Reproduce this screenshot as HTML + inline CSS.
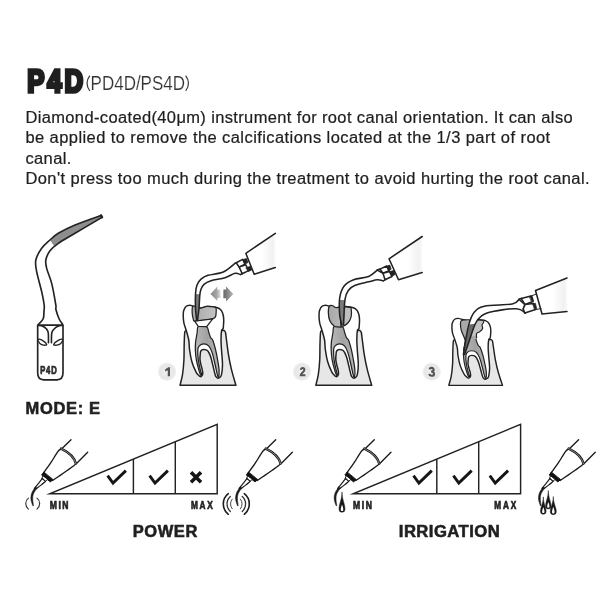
<!DOCTYPE html>
<html><head><meta charset="utf-8"><title>P4D</title>
<style>html,body{margin:0;padding:0;background:#fff}body{width:606px;height:600px;overflow:hidden;font-family:"Liberation Sans",sans-serif}svg{display:block}</style>
</head><body>
<svg width="606" height="600" viewBox="0 0 606 600" style="will-change:transform;filter:blur(0.35px)">
<rect width="606" height="600" fill="#fff"/>
<defs>
<radialGradient id="bg" cx="50%" cy="50%" r="50%"><stop offset="0" stop-color="#f2f2f2"/><stop offset="0.75" stop-color="#e6e6e6"/><stop offset="1" stop-color="#f4f4f4"/></radialGradient>
<linearGradient id="arL" x1="0" x2="1"><stop offset="0" stop-color="#858585"/><stop offset="0.65" stop-color="#a8a8a8"/><stop offset="1" stop-color="#e4e4e4"/></linearGradient>
<linearGradient id="arR" x1="0" x2="1"><stop offset="0" stop-color="#666"/><stop offset="0.5" stop-color="#8c8c8c"/><stop offset="1" stop-color="#b8b8b8"/></linearGradient>
<linearGradient id="pulp" x1="0" x2="1"><stop offset="0" stop-color="#b9b9b9"/><stop offset="0.5" stop-color="#a2a2a2"/><stop offset="1" stop-color="#b4b4b4"/></linearGradient>
<linearGradient id="cav" x1="0" x2="1"><stop offset="0" stop-color="#a8a8a8"/><stop offset="1" stop-color="#c4c4c4"/></linearGradient>
<linearGradient id="body" x1="0" x2="1"><stop offset="0" stop-color="#fff"/><stop offset="0.55" stop-color="#fff"/><stop offset="0.9" stop-color="#f1f1f1"/><stop offset="1" stop-color="#fafafa"/></linearGradient>
</defs>
<g font-family="Liberation Sans, sans-serif" fill="#1f1f1f">
<text transform="translate(27.2 92.3) scale(0.82 1)" font-size="31.5" font-weight="bold" letter-spacing="3.5" stroke="#1f1f1f" stroke-width="3.4" stroke-linejoin="miter">P4D</text>
<text transform="translate(90.6 90) scale(0.858 1)" font-size="19.8" fill="#333" stroke="#fff" stroke-width="0.15">PD4D/PS4D</text>
<path d="M89.8 75.6 Q84.2 83.3 89.8 91 M185.7 75.6 Q191.3 83.3 185.7 91" fill="none" stroke="#3a3a3a" stroke-width="1.2"/>
<text transform="translate(25.4 122.9) scale(1.03 1)" font-size="16" stroke="#1f1f1f" stroke-width="0.22" letter-spacing="0.36">Diamond-coated(40μm) instrument for root canal orientation. It can also</text>
<text transform="translate(25.4 143.4) scale(1.03 1)" font-size="16" stroke="#1f1f1f" stroke-width="0.22" letter-spacing="0.42">be applied to remove the calcifications located at the 1/3 part of root</text>
<text transform="translate(25.4 163.9) scale(1.03 1)" font-size="16" stroke="#1f1f1f" stroke-width="0.22" letter-spacing="0.39">canal.</text>
<text transform="translate(25.4 184.4) scale(1.03 1)" font-size="16" stroke="#1f1f1f" stroke-width="0.22" letter-spacing="0.41">Don&#39;t press too much during the treatment to avoid hurting the root canal.</text>
<text transform="translate(25.6 414.3) scale(1.03 1)" font-size="16" font-weight="bold" stroke="#1f1f1f" stroke-width="0.55" letter-spacing="0.65">MODE: E</text>
<text transform="translate(132.8 536.5) scale(1.03 1)" font-size="16" font-weight="bold" stroke="#1f1f1f" stroke-width="0.55" letter-spacing="0.55">POWER</text>
<text transform="translate(398.8 536.5) scale(1.04 1)" font-size="16" font-weight="bold" stroke="#1f1f1f" stroke-width="0.55" letter-spacing="0.45">IRRIGATION</text>
</g>
<g fill="none" stroke="#222" stroke-width="1.65" stroke-linecap="round" stroke-linejoin="round">
<path d="M101.33 215.33 C96.94 216.94 82.17 222.00 75.00 225.00 C67.83 228.00 62.50 230.83 58.33 233.33 C54.17 235.83 52.78 237.50 50.00 240.00 C47.22 242.50 44.03 245.00 41.67 248.33 C39.31 251.67 36.67 256.11 35.83 260.00 C35.00 263.89 35.69 266.39 36.67 271.67 C37.64 276.94 40.42 286.11 41.67 291.67 C42.92 297.22 43.78 301.81 44.17 305.00 C44.56 308.19 44.16 308.54 44.00 310.83 C43.84 313.12 44.13 316.51 43.21 318.75 C42.28 320.99 39.25 323.37 38.46 324.29 L62.52 324.29 C61.94 323.37 60.15 321.26 59.04 318.75 C57.93 316.24 56.41 311.54 55.87 309.25 C55.34 306.96 56.53 309.32 55.83 305.00 C55.13 300.68 53.19 289.44 51.67 283.33 C50.14 277.22 47.64 272.22 46.67 268.33 C45.69 264.44 45.28 262.92 45.83 260.00 C46.39 257.08 47.92 253.61 50.00 250.83 C52.08 248.06 54.17 246.25 58.33 243.33 C62.50 240.42 67.72 237.67 75.00 233.33 C82.28 229.00 97.50 220.00 102.00 217.33 Z" fill="#fff" stroke="none"/>
<path d="M101.33 215.33 C96.94 216.94 82.17 222.00 75.00 225.00 C67.83 228.00 62.50 230.83 58.33 233.33 C54.17 235.83 51.39 238.89 50.00 240.00 L54.17 246.17 L54.17 246.17 C54.86 245.69 54.86 245.47 58.33 243.33 C61.81 241.19 67.72 237.67 75.00 233.33 C82.28 229.00 97.50 220.00 102.00 217.33Z" fill="#8e8e8e" stroke="none"/>
<path d="M101.33 215.33 C96.94 216.94 82.17 222.00 75.00 225.00 C67.83 228.00 62.50 230.83 58.33 233.33 C54.17 235.83 52.78 237.50 50.00 240.00 C47.22 242.50 44.03 245.00 41.67 248.33 C39.31 251.67 36.67 256.11 35.83 260.00 C35.00 263.89 35.69 266.39 36.67 271.67 C37.64 276.94 40.42 286.11 41.67 291.67 C42.92 297.22 43.78 301.81 44.17 305.00 C44.56 308.19 44.16 308.54 44.00 310.83 C43.84 313.12 44.13 316.51 43.21 318.75 C42.28 320.99 39.25 323.37 38.46 324.29"/>
<path d="M102.00 217.33 C97.50 220.00 82.28 229.00 75.00 233.33 C67.72 237.67 62.50 240.42 58.33 243.33 C54.17 246.25 52.08 248.06 50.00 250.83 C47.92 253.61 46.39 257.08 45.83 260.00 C45.28 262.92 45.69 264.44 46.67 268.33 C47.64 272.22 50.14 277.22 51.67 283.33 C53.19 289.44 55.13 300.68 55.83 305.00 C56.53 309.32 55.34 306.96 55.87 309.25 C56.41 311.54 57.93 316.24 59.04 318.75 C60.15 321.26 61.94 323.37 62.52 324.29"/>
<path d="M101.00 215.33 L102.17 217.33" stroke-width="2.2"/>
<path d="M37.67 325.08 L37.67 372.86 C37.67 377.86 39.67 379.86 43.67 379.86 L57.00 379.86 C61.00 379.86 63.00 377.86 63.00 372.86 L63.00 325.08 Z" fill="#fff"/>
<path d="M38.30 325.40 C39.04 325.56 41.36 325.74 42.73 326.35 C44.10 326.96 45.61 327.93 46.53 329.04 C47.46 330.15 47.96 330.70 48.27 333.00 C48.59 335.29 48.41 341.18 48.43 342.82" stroke-width="1.6"/>
<path d="M62.37 325.40 C61.63 325.56 59.30 325.74 57.93 326.35 C56.56 326.96 55.16 327.93 54.13 329.04 C53.10 330.15 52.21 330.70 51.76 333.00 C51.31 335.29 51.49 341.18 51.44 342.82" stroke-width="1.6"/>
<path d="M37.98 339.49 C38.41 338.99 40.96 339.62 42.42 340.44 C43.87 341.26 46.48 343.61 46.69 344.40 C46.90 345.19 44.82 345.35 43.68 345.19 C42.55 345.03 40.83 344.40 39.88 343.45 C38.93 342.50 37.56 339.99 37.98 339.49Z" fill="#fff" stroke-width="1.3"/>
<path d="M62.68 339.49 C62.26 338.99 59.75 339.62 58.25 340.44 C56.74 341.26 53.92 343.61 53.66 344.40 C53.39 345.19 55.48 345.35 56.67 345.19 C57.85 345.03 59.78 344.40 60.78 343.45 C61.78 342.50 63.10 339.99 62.68 339.49Z" fill="#fff" stroke-width="1.3"/>
</g>
<text transform="translate(40.2 374.1) scale(0.74 1)" font-family="Liberation Sans, sans-serif" font-weight="bold" font-size="10.3" fill="#2a2a2a" stroke="#2a2a2a" stroke-width="0.75" letter-spacing="1.1">P4D</text>
<g transform="translate(207.80 385.40) scale(1.0000 1.0000) translate(-207.8 -385.40)" fill="none" stroke="#222" stroke-width="1.5" stroke-linejoin="round" stroke-linecap="round">
<path d="M180.00 385.33 C180.42 383.56 181.84 378.92 182.50 374.67 C183.16 370.42 183.66 364.78 183.93 359.83 C184.21 354.89 184.04 349.47 184.17 345.00 C184.29 340.53 184.47 335.33 184.67 333.00 C184.86 330.67 185.22 331.33 185.33 331.00 L186.67 330.67 L205.83 338.33 L222.67 330.33 L224.17 330.50 C224.39 330.83 225.11 330.92 225.50 332.50 C225.89 334.08 226.00 336.28 226.50 340.00 C227.00 343.72 227.67 349.89 228.50 354.83 C229.33 359.78 230.26 364.58 231.50 369.67 C232.74 374.75 235.18 382.72 235.92 385.33 Z" fill="#e7e7e7"/>
<path d="M186.00 329.67 C185.24 327.03 184.59 325.81 184.17 324.17 C183.74 322.52 183.60 321.33 183.45 319.80 C183.30 318.27 183.21 316.49 183.25 315.00 C183.29 313.51 183.22 312.26 183.67 310.83 C184.11 309.41 184.88 307.38 185.92 306.43 C186.95 305.49 188.73 305.20 189.88 305.15 C191.04 305.10 191.56 305.77 192.83 306.13 C194.10 306.50 196.09 307.02 197.50 307.33 C198.91 307.64 199.74 308.15 201.27 308.00 C202.79 307.85 204.93 306.64 206.67 306.43 C208.40 306.22 210.01 306.57 211.67 306.73 C213.32 306.90 215.34 307.11 216.62 307.43 C217.89 307.76 218.51 308.09 219.33 308.67 C220.16 309.24 220.93 309.83 221.57 310.88 C222.21 311.94 222.81 313.51 223.17 315.00 C223.53 316.49 223.68 318.13 223.73 319.80 C223.79 321.47 223.61 323.51 223.50 325.00 C223.39 326.49 223.37 327.77 223.05 328.72 C222.73 329.66 221.91 328.79 221.57 330.67 C221.22 332.55 221.01 336.81 221.00 340.00 C220.99 343.19 221.25 345.72 221.50 349.83 C221.75 353.94 222.50 360.53 222.50 364.67 C222.50 368.81 221.97 372.56 221.50 374.67 C221.03 376.78 220.32 376.76 219.67 377.33 C219.02 377.91 218.21 378.23 217.60 378.12 C216.99 378.01 216.41 377.24 216.00 376.67 C215.59 376.09 215.61 376.33 215.13 374.67 C214.66 373.00 213.91 369.64 213.17 366.67 C212.42 363.69 211.58 359.47 210.67 356.83 C209.75 354.19 208.82 352.07 207.67 350.83 C206.51 349.59 204.87 349.37 203.73 349.40 C202.59 349.43 201.43 350.07 200.83 351.00 C200.24 351.93 200.31 353.53 200.17 355.00 C200.03 356.47 199.86 358.17 200.00 359.83 C200.14 361.50 200.62 363.36 201.00 365.00 C201.38 366.64 201.96 368.22 202.25 369.67 C202.54 371.11 202.85 372.61 202.75 373.67 C202.65 374.72 202.08 375.51 201.67 376.00 C201.26 376.49 200.84 376.80 200.28 376.63 C199.73 376.47 199.08 375.83 198.33 375.00 C197.59 374.17 196.91 373.87 195.83 371.67 C194.76 369.46 192.91 365.41 191.87 361.78 C190.83 358.16 190.10 353.53 189.58 349.90 C189.06 346.27 189.35 343.37 188.75 340.00 C188.15 336.63 186.76 332.31 186.00 329.67Z" fill="#fff"/>
<path d="M198.33 326.50 C196.75 327.47 197.50 330.64 197.17 332.50 C196.83 334.36 196.59 336.14 196.33 337.67 C196.08 339.19 195.78 339.64 195.62 341.67 C195.45 343.69 195.21 346.81 195.33 349.83 C195.45 352.86 195.68 356.19 196.33 359.83 C196.99 363.47 198.51 369.06 199.28 371.67 C200.06 374.28 200.63 375.11 201.00 375.50 C201.37 375.89 201.62 374.97 201.50 374.00 C201.38 373.03 200.82 372.03 200.28 369.67 C199.75 367.31 198.71 363.14 198.30 359.83 C197.89 356.53 197.64 352.15 197.80 349.83 C197.96 347.52 198.29 346.91 199.28 345.93 C200.27 344.96 202.17 343.97 203.73 343.97 C205.30 343.97 207.26 344.46 208.67 345.93 C210.07 347.41 211.09 349.70 212.17 352.83 C213.24 355.97 214.27 361.11 215.13 364.75 C215.99 368.39 216.74 372.62 217.33 374.67 C217.92 376.71 218.38 377.83 218.67 377.00 C218.96 376.17 219.26 372.53 219.08 369.67 C218.91 366.81 218.18 363.14 217.60 359.83 C217.02 356.53 216.44 353.14 215.62 349.83 C214.79 346.53 213.49 342.03 212.67 340.00 C211.84 337.97 211.31 338.92 210.67 337.67 C210.03 336.42 209.50 334.33 208.83 332.50 C208.17 330.67 208.42 327.67 206.67 326.67 C204.92 325.67 199.92 325.53 198.33 326.50Z" fill="url(#pulp)" stroke-width="1.25"/>
<path d="M192.83 306.13 C192.08 307.05 192.08 310.63 192.17 312.83 C192.25 315.03 192.92 317.96 193.33 319.33 C193.74 320.71 192.90 320.92 194.63 321.08 C196.37 321.24 200.73 320.68 203.73 320.30 C206.74 319.93 210.72 319.41 212.67 318.83 C214.61 318.26 214.84 317.83 215.42 316.83 C215.99 315.83 216.05 314.36 216.12 312.83 C216.19 311.31 216.58 308.68 215.83 307.67 C215.09 306.65 213.19 306.94 211.67 306.73 C210.14 306.53 208.40 306.20 206.67 306.43 C204.93 306.66 202.93 307.97 201.27 308.12 C199.60 308.27 198.07 307.66 196.67 307.33 C195.26 307.00 193.58 305.22 192.83 306.13Z" fill="url(#cav)" stroke-width="1.25"/>
<path d="M194.63 321.17 L212.67 318.92 L206.72 326.73 L198.30 326.42Z" fill="#fff" stroke-width="1.25"/>
</g>
<g transform="translate(343.60 385.40) scale(1.0000 1.0000) translate(-207.8 -385.40)" fill="none" stroke="#222" stroke-width="1.5" stroke-linejoin="round" stroke-linecap="round">
<path d="M180.00 385.33 C180.42 383.56 181.84 378.92 182.50 374.67 C183.16 370.42 183.66 364.78 183.93 359.83 C184.21 354.89 184.04 349.47 184.17 345.00 C184.29 340.53 184.47 335.33 184.67 333.00 C184.86 330.67 185.22 331.33 185.33 331.00 L186.67 330.67 L205.83 338.33 L222.67 330.33 L224.17 330.50 C224.39 330.83 225.11 330.92 225.50 332.50 C225.89 334.08 226.00 336.28 226.50 340.00 C227.00 343.72 227.67 349.89 228.50 354.83 C229.33 359.78 230.26 364.58 231.50 369.67 C232.74 374.75 235.18 382.72 235.92 385.33 Z" fill="#e7e7e7"/>
<path d="M186.00 329.67 C185.24 327.03 184.59 325.81 184.17 324.17 C183.74 322.52 183.60 321.33 183.45 319.80 C183.30 318.27 183.21 316.49 183.25 315.00 C183.29 313.51 183.22 312.26 183.67 310.83 C184.11 309.41 184.88 307.38 185.92 306.43 C186.95 305.49 188.73 305.20 189.88 305.15 C191.04 305.10 191.56 305.77 192.83 306.13 C194.10 306.50 196.09 307.02 197.50 307.33 C198.91 307.64 199.74 308.15 201.27 308.00 C202.79 307.85 204.93 306.64 206.67 306.43 C208.40 306.22 210.01 306.57 211.67 306.73 C213.32 306.90 215.34 307.11 216.62 307.43 C217.89 307.76 218.51 308.09 219.33 308.67 C220.16 309.24 220.93 309.83 221.57 310.88 C222.21 311.94 222.81 313.51 223.17 315.00 C223.53 316.49 223.68 318.13 223.73 319.80 C223.79 321.47 223.61 323.51 223.50 325.00 C223.39 326.49 223.37 327.77 223.05 328.72 C222.73 329.66 221.91 328.79 221.57 330.67 C221.22 332.55 221.01 336.81 221.00 340.00 C220.99 343.19 221.25 345.72 221.50 349.83 C221.75 353.94 222.50 360.53 222.50 364.67 C222.50 368.81 221.97 372.56 221.50 374.67 C221.03 376.78 220.32 376.76 219.67 377.33 C219.02 377.91 218.21 378.23 217.60 378.12 C216.99 378.01 216.41 377.24 216.00 376.67 C215.59 376.09 215.61 376.33 215.13 374.67 C214.66 373.00 213.91 369.64 213.17 366.67 C212.42 363.69 211.58 359.47 210.67 356.83 C209.75 354.19 208.82 352.07 207.67 350.83 C206.51 349.59 204.87 349.37 203.73 349.40 C202.59 349.43 201.43 350.07 200.83 351.00 C200.24 351.93 200.31 353.53 200.17 355.00 C200.03 356.47 199.86 358.17 200.00 359.83 C200.14 361.50 200.62 363.36 201.00 365.00 C201.38 366.64 201.96 368.22 202.25 369.67 C202.54 371.11 202.85 372.61 202.75 373.67 C202.65 374.72 202.08 375.51 201.67 376.00 C201.26 376.49 200.84 376.80 200.28 376.63 C199.73 376.47 199.08 375.83 198.33 375.00 C197.59 374.17 196.91 373.87 195.83 371.67 C194.76 369.46 192.91 365.41 191.87 361.78 C190.83 358.16 190.10 353.53 189.58 349.90 C189.06 346.27 189.35 343.37 188.75 340.00 C188.15 336.63 186.76 332.31 186.00 329.67Z" fill="#fff"/>
<path d="M198.33 326.50 C196.75 327.47 197.50 330.64 197.17 332.50 C196.83 334.36 196.59 336.14 196.33 337.67 C196.08 339.19 195.78 339.64 195.62 341.67 C195.45 343.69 195.21 346.81 195.33 349.83 C195.45 352.86 195.68 356.19 196.33 359.83 C196.99 363.47 198.51 369.06 199.28 371.67 C200.06 374.28 200.63 375.11 201.00 375.50 C201.37 375.89 201.62 374.97 201.50 374.00 C201.38 373.03 200.82 372.03 200.28 369.67 C199.75 367.31 198.71 363.14 198.30 359.83 C197.89 356.53 197.64 352.15 197.80 349.83 C197.96 347.52 198.29 346.91 199.28 345.93 C200.27 344.96 202.17 343.97 203.73 343.97 C205.30 343.97 207.26 344.46 208.67 345.93 C210.07 347.41 211.09 349.70 212.17 352.83 C213.24 355.97 214.27 361.11 215.13 364.75 C215.99 368.39 216.74 372.62 217.33 374.67 C217.92 376.71 218.38 377.83 218.67 377.00 C218.96 376.17 219.26 372.53 219.08 369.67 C218.91 366.81 218.18 363.14 217.60 359.83 C217.02 356.53 216.44 353.14 215.62 349.83 C214.79 346.53 213.49 342.03 212.67 340.00 C211.84 337.97 211.31 338.92 210.67 337.67 C210.03 336.42 209.50 334.33 208.83 332.50 C208.17 330.67 208.42 327.67 206.67 326.67 C204.92 325.67 199.92 325.53 198.33 326.50Z" fill="url(#pulp)" stroke-width="1.25"/>
<path d="M193.54 306.14 C192.79 307.33 192.46 310.43 192.55 312.87 C192.63 315.31 193.04 318.56 194.03 320.79 C195.02 323.02 197.08 325.21 198.49 326.24 C199.89 327.26 201.18 326.85 202.45 326.93 C203.72 327.01 204.54 327.34 206.11 326.73 C207.68 326.12 210.32 324.92 211.85 323.27 C213.39 321.62 214.72 319.22 215.32 316.83 C215.91 314.44 215.63 310.50 215.42 308.91 C215.20 307.33 214.96 307.66 214.03 307.33 C213.11 307.00 211.06 306.93 209.87 306.93 C208.69 306.93 208.06 307.24 206.90 307.33 C205.75 307.41 204.18 307.41 202.94 307.43 C201.70 307.44 200.47 307.71 199.48 307.43 C198.49 307.15 197.99 305.96 197.00 305.74 C196.01 305.53 194.28 304.95 193.54 306.14Z" fill="url(#cav)" stroke-width="1.25"/>
</g>
<g transform="translate(475.50 385.40) scale(0.9600 0.8360) translate(-207.8 -385.40)" fill="none" stroke="#222" stroke-width="1.5" stroke-linejoin="round" stroke-linecap="round">
<path d="M180.00 385.33 C180.42 383.56 181.84 378.92 182.50 374.67 C183.16 370.42 183.66 364.78 183.93 359.83 C184.21 354.89 184.04 349.47 184.17 345.00 C184.29 340.53 184.47 335.33 184.67 333.00 C184.86 330.67 185.22 331.33 185.33 331.00 L186.67 330.67 L205.83 338.33 L222.67 330.33 L224.17 330.50 C224.39 330.83 225.11 330.92 225.50 332.50 C225.89 334.08 226.00 336.28 226.50 340.00 C227.00 343.72 227.67 349.89 228.50 354.83 C229.33 359.78 230.26 364.58 231.50 369.67 C232.74 374.75 235.18 382.72 235.92 385.33 Z" fill="#e7e7e7"/>
<path d="M186.00 329.67 C185.24 327.03 184.59 325.81 184.17 324.17 C183.74 322.52 183.60 321.33 183.45 319.80 C183.30 318.27 183.21 316.49 183.25 315.00 C183.29 313.51 183.22 312.26 183.67 310.83 C184.11 309.41 184.88 307.38 185.92 306.43 C186.95 305.49 188.73 305.20 189.88 305.15 C191.04 305.10 191.56 305.77 192.83 306.13 C194.10 306.50 196.09 307.02 197.50 307.33 C198.91 307.64 199.74 308.15 201.27 308.00 C202.79 307.85 204.93 306.64 206.67 306.43 C208.40 306.22 210.01 306.57 211.67 306.73 C213.32 306.90 215.34 307.11 216.62 307.43 C217.89 307.76 218.51 308.09 219.33 308.67 C220.16 309.24 220.93 309.83 221.57 310.88 C222.21 311.94 222.81 313.51 223.17 315.00 C223.53 316.49 223.68 318.13 223.73 319.80 C223.79 321.47 223.61 323.51 223.50 325.00 C223.39 326.49 223.37 327.77 223.05 328.72 C222.73 329.66 221.91 328.79 221.57 330.67 C221.22 332.55 221.01 336.81 221.00 340.00 C220.99 343.19 221.25 345.72 221.50 349.83 C221.75 353.94 222.50 360.53 222.50 364.67 C222.50 368.81 221.97 372.56 221.50 374.67 C221.03 376.78 220.32 376.76 219.67 377.33 C219.02 377.91 218.21 378.23 217.60 378.12 C216.99 378.01 216.41 377.24 216.00 376.67 C215.59 376.09 215.61 376.33 215.13 374.67 C214.66 373.00 213.91 369.64 213.17 366.67 C212.42 363.69 211.58 359.47 210.67 356.83 C209.75 354.19 208.82 352.07 207.67 350.83 C206.51 349.59 204.87 349.37 203.73 349.40 C202.59 349.43 201.43 350.07 200.83 351.00 C200.24 351.93 200.31 353.53 200.17 355.00 C200.03 356.47 199.86 358.17 200.00 359.83 C200.14 361.50 200.62 363.36 201.00 365.00 C201.38 366.64 201.96 368.22 202.25 369.67 C202.54 371.11 202.85 372.61 202.75 373.67 C202.65 374.72 202.08 375.51 201.67 376.00 C201.26 376.49 200.84 376.80 200.28 376.63 C199.73 376.47 199.08 375.83 198.33 375.00 C197.59 374.17 196.91 373.87 195.83 371.67 C194.76 369.46 192.91 365.41 191.87 361.78 C190.83 358.16 190.10 353.53 189.58 349.90 C189.06 346.27 189.35 343.37 188.75 340.00 C188.15 336.63 186.76 332.31 186.00 329.67Z" fill="#fff"/>
<path d="M198.33 326.50 C196.75 327.47 197.50 330.64 197.17 332.50 C196.83 334.36 196.59 336.14 196.33 337.67 C196.08 339.19 195.78 339.64 195.62 341.67 C195.45 343.69 195.21 346.81 195.33 349.83 C195.45 352.86 195.68 356.19 196.33 359.83 C196.99 363.47 198.51 369.06 199.28 371.67 C200.06 374.28 200.63 375.11 201.00 375.50 C201.37 375.89 201.62 374.97 201.50 374.00 C201.38 373.03 200.82 372.03 200.28 369.67 C199.75 367.31 198.71 363.14 198.30 359.83 C197.89 356.53 197.64 352.15 197.80 349.83 C197.96 347.52 198.29 346.91 199.28 345.93 C200.27 344.96 202.17 343.97 203.73 343.97 C205.30 343.97 207.26 344.46 208.67 345.93 C210.07 347.41 211.09 349.70 212.17 352.83 C213.24 355.97 214.27 361.11 215.13 364.75 C215.99 368.39 216.74 372.62 217.33 374.67 C217.92 376.71 218.38 377.83 218.67 377.00 C218.96 376.17 219.26 372.53 219.08 369.67 C218.91 366.81 218.18 363.14 217.60 359.83 C217.02 356.53 216.44 353.14 215.62 349.83 C214.79 346.53 213.49 342.03 212.67 340.00 C211.84 337.97 211.31 338.92 210.67 337.67 C210.03 336.42 209.50 334.33 208.83 332.50 C208.17 330.67 208.42 327.67 206.67 326.67 C204.92 325.67 199.92 325.53 198.33 326.50Z" fill="url(#pulp)" stroke-width="1.25"/>
<path d="M193.22 307.77 L201.55 306.93 L199.99 313.15 L197.07 331.09 L195.82 327.51 L193.22 320.33 L192.18 313.15Z" fill="#a9a9a9" stroke="none"/>
<path d="M207.80 307.17 L215.61 307.77 L216.24 310.16 L214.57 313.15 L215.20 317.34 L212.49 320.93 L208.95 323.44 L208.95 328.46 L202.07 331.09 L204.68 319.13 L207.28 308.37Z" fill="#c2c2c2" stroke="none"/>
<path d="M196.86 326.55 L208.53 326.55 L208.53 329.90 L196.86 329.90Z" fill="#a6a6a6" stroke="none"/>
<path d="M201.55 306.93 C200.16 307.07 194.78 306.73 193.22 307.77 C191.65 308.81 192.18 311.06 192.18 313.15 C192.18 315.24 192.61 317.94 193.22 320.33 C193.82 322.72 195.18 325.71 195.82 327.51 C196.46 329.30 196.86 330.50 197.07 331.09" stroke-width="1.25"/>
<path d="M207.80 307.17 C209.10 307.27 214.21 307.27 215.61 307.77 C217.02 308.27 216.41 309.26 216.24 310.16 C216.06 311.06 214.74 311.96 214.57 313.15 C214.40 314.35 215.54 316.04 215.20 317.34 C214.85 318.63 213.53 319.91 212.49 320.93 C211.45 321.94 209.54 322.18 208.95 323.44 C208.36 324.69 208.95 327.62 208.95 328.46" stroke-width="1.25"/>
</g>
<g fill="none" stroke="#222" stroke-width="1.55" stroke-linejoin="round" stroke-linecap="round">
<path d="M234.67 263.67 C232.78 265.06 227.78 270.06 223.33 272.00 C218.89 273.94 211.72 274.14 208.00 275.33 C204.28 276.53 202.83 277.56 201.00 279.17 C199.17 280.78 197.92 282.53 197.00 285.00 C196.08 287.47 195.75 290.17 195.50 294.00 C195.25 297.83 195.31 303.58 195.50 308.00 C195.69 312.42 196.47 318.42 196.67 320.50 L197.50 320.50 C197.75 318.42 198.61 312.25 199.00 308.00 C199.39 303.75 199.50 298.11 199.83 295.00 C200.17 291.89 200.31 291.11 201.00 289.33 C201.69 287.56 202.33 285.75 204.00 284.33 C205.67 282.92 207.50 281.94 211.00 280.83 C214.50 279.72 221.00 278.92 225.00 277.67 C229.00 276.42 232.44 273.86 235.00 273.33 C237.56 272.81 239.44 274.31 240.33 274.50 Z" fill="#fff" stroke="none"/>
<path d="M195.50 294.00 L195.50 308.00 L196.67 320.50 L197.50 320.50 L199.00 308.00 L199.83 294.33Z" fill="#7c7c7c" stroke="none"/>
<path d="M234.67 263.67 C232.78 265.06 227.78 270.06 223.33 272.00 C218.89 273.94 211.72 274.14 208.00 275.33 C204.28 276.53 202.83 277.56 201.00 279.17 C199.17 280.78 197.92 282.53 197.00 285.00 C196.08 287.47 195.75 290.17 195.50 294.00 C195.25 297.83 195.31 303.58 195.50 308.00 C195.69 312.42 196.47 318.42 196.67 320.50"/>
<path d="M240.33 274.50 C239.44 274.31 237.56 272.81 235.00 273.33 C232.44 273.86 229.00 276.42 225.00 277.67 C221.00 278.92 214.50 279.72 211.00 280.83 C207.50 281.94 205.67 282.92 204.00 284.33 C202.33 285.75 201.69 287.56 201.00 289.33 C200.31 291.11 200.17 291.89 199.83 295.00 C199.50 298.11 199.39 303.75 199.00 308.00 C198.61 312.25 197.75 318.42 197.50 320.50"/>
<path d="M275.33 233.33 L245.83 253.33 L254.17 274.17 L275.33 267.50" fill="url(#body)"/>
<path d="M234.60 263.70 L242.80 259.40 L245.00 264.20 L245.80 264.80 L248.60 270.60 L242.20 273.80 L240.30 274.50Z" fill="#fff" stroke="none"/>
<path d="M234.60 263.70 L236.20 262.70"/>
<path d="M240.30 274.50 L242.20 273.80"/>
<path d="M236.20 262.70 L242.80 259.40 L245.00 264.20 L239.20 267.10Z" fill="#fff"/>
<path d="M239.20 267.10 L245.80 264.80 L248.60 270.60 L242.20 273.80Z" fill="#fff"/>
<path d="M243.00 259.60 L246.60 258.40 L248.00 262.60 L245.00 264.00Z" fill="#222" stroke-width="0.7"/>
<path d="M246.20 267.80 L250.40 266.20 L251.80 270.00 L248.60 271.40Z" fill="#222" stroke-width="0.7"/>
</g>
<path d="M210.5 293.9 L217.4 286.4 L217.4 289.8 L220.6 289.8 L220.6 297.9 L217.4 297.9 L217.4 301.1 Z" fill="url(#arL)"/>
<path d="M233.3 293.9 L226.1 286.4 L226.1 289.5 L223.4 289.5 L223.4 298.2 L226.1 298.2 L226.1 301.4 Z" fill="url(#arR)"/>
<g fill="none" stroke="#222" stroke-width="1.55" stroke-linejoin="round" stroke-linecap="round">
<path d="M377.25 270.06 C375.82 271.14 372.60 274.89 368.67 276.50 C364.74 278.11 357.76 278.11 353.65 279.72 C349.54 281.33 346.32 283.12 343.99 286.16 C341.67 289.20 340.41 293.13 339.70 297.96 C338.98 302.79 339.34 310.62 339.70 315.13 C340.06 319.64 341.49 323.35 341.85 325.00 L343.56 325.00 C343.63 323.35 343.74 319.46 343.99 315.13 C344.24 310.80 344.35 303.15 345.06 299.03 C345.78 294.92 346.67 292.70 348.28 290.45 C349.89 288.20 351.32 286.95 354.72 285.52 C358.12 284.08 364.91 282.83 368.67 281.87 C372.42 280.90 374.82 279.90 377.25 279.72 C379.69 279.54 382.26 280.62 383.26 280.79 Z" fill="#fff" stroke="none"/>
<path d="M339.67 301.67 L340.33 315.00 L341.00 327.00 L342.00 315.00 L343.67 301.67Z" fill="#7c7c7c" stroke-width="1.2"/>
<path d="M339.70 300.11 L339.91 315.13 L341.42 325.00 L343.78 325.00 L344.21 315.13 L344.85 300.11Z" fill="#7c7c7c" stroke="none"/>
<path d="M377.25 270.06 C375.82 271.14 372.60 274.89 368.67 276.50 C364.74 278.11 357.76 278.11 353.65 279.72 C349.54 281.33 346.32 283.12 343.99 286.16 C341.67 289.20 340.41 293.13 339.70 297.96 C338.98 302.79 339.34 310.62 339.70 315.13 C340.06 319.64 341.49 323.35 341.85 325.00"/>
<path d="M383.26 280.79 C382.26 280.62 379.69 279.54 377.25 279.72 C374.82 279.90 372.42 280.90 368.67 281.87 C364.91 282.83 358.12 284.08 354.72 285.52 C351.32 286.95 349.89 288.20 348.28 290.45 C346.67 292.70 345.78 294.92 345.06 299.03 C344.35 303.15 344.24 310.80 343.99 315.13 C343.74 319.46 343.63 323.35 343.56 325.00"/>
<path d="M422.20 236.50 L389.00 258.80 L398.50 279.80 L422.20 272.50" fill="url(#body)"/>
<path d="M377.30 270.10 L380.00 269.10 L386.50 266.00 L392.00 276.50 L385.00 279.80 L383.30 280.80Z" fill="#fff" stroke="none"/>
<path d="M377.30 270.10 L380.00 269.10"/>
<path d="M377.30 270.10 L383.00 273.30"/>
<path d="M383.30 280.80 L385.00 279.80"/>
<path d="M380.00 269.10 L386.50 266.00 L389.00 270.60 L383.00 273.30Z" fill="#fff"/>
<path d="M383.00 273.30 L389.50 271.40 L392.00 276.50 L385.00 279.80Z" fill="#fff"/>
<path d="M386.70 266.10 L389.80 265.10 L391.20 269.20 L389.00 270.40Z" fill="#222" stroke-width="0.7"/>
<path d="M389.80 271.60 L393.80 270.40 L395.20 274.40 L392.00 276.20Z" fill="#222" stroke-width="0.7"/>
</g>
<g fill="none" stroke="#222" stroke-width="1.55" stroke-linejoin="round" stroke-linecap="round">
<path d="M519.10 299.27 C517.95 300.06 518.03 302.85 512.23 303.99 C506.44 305.14 490.70 304.71 484.33 306.14 C477.97 307.57 476.61 309.54 474.03 312.58 C471.46 315.62 470.31 319.55 468.88 324.38 C467.45 329.21 466.34 336.54 465.45 341.55 C464.56 346.55 463.84 352.27 463.52 354.42 L464.59 354.42 C465.45 351.92 467.95 344.51 469.74 339.40 C471.53 334.28 473.35 327.67 475.32 323.73 C477.29 319.80 478.61 317.83 481.55 315.79 C484.48 313.76 487.09 312.68 492.92 311.50 C498.75 310.32 511.09 308.46 516.52 308.71 C521.96 308.96 524.03 312.29 525.54 313.00 Z" fill="#fff" stroke="none"/>
<path d="M468.88 324.38 L465.45 341.55 L463.52 354.42 L464.59 354.42 L469.74 339.40 L475.32 323.73Z" fill="#6a6a6a" stroke="none"/>
<path d="M519.10 299.27 C517.95 300.06 518.03 302.85 512.23 303.99 C506.44 305.14 490.70 304.71 484.33 306.14 C477.97 307.57 476.61 309.54 474.03 312.58 C471.46 315.62 470.31 319.55 468.88 324.38 C467.45 329.21 466.34 336.54 465.45 341.55 C464.56 346.55 463.84 352.27 463.52 354.42"/>
<path d="M525.54 313.00 C524.03 312.29 521.96 308.96 516.52 308.71 C511.09 308.46 498.75 310.32 492.92 311.50 C487.09 312.68 484.48 313.76 481.55 315.79 C478.61 317.83 477.29 319.80 475.32 323.73 C473.35 327.67 471.53 334.28 469.74 339.40 C467.95 344.51 465.45 351.92 464.59 354.42"/>
<path d="M567.00 278.00 L535.50 290.50 L542.00 314.00 L567.00 311.50" fill="url(#body)"/>
<path d="M519.10 299.30 L521.20 298.40 L531.00 296.00 L535.60 309.60 L524.80 313.00Z" fill="#fff" stroke="none"/>
<path d="M519.10 299.30 L521.20 298.40"/>
<path d="M519.10 299.30 L525.00 304.60 L523.20 309.00 L524.80 313.00"/>
<path d="M521.20 298.40 L531.00 296.00 L533.00 301.60 L525.00 304.60Z" fill="#fff"/>
<path d="M525.00 304.60 L533.50 303.40 L535.60 309.60 L524.80 313.00 L523.20 309.00Z" fill="#fff"/>
<path d="M529.60 296.40 L532.00 295.70 L533.50 300.80 L531.80 301.60Z" fill="#222" stroke-width="0.7"/>
<path d="M533.00 303.80 L535.40 303.30 L536.70 308.60 L534.80 309.30Z" fill="#222" stroke-width="0.7"/>
<path d="M532.20 295.60 L536.40 294.00" stroke-width="1.0"/>
<path d="M535.60 309.60 L541.00 308.60" stroke-width="1.0"/>
</g>
<circle cx="167.0" cy="371.7" r="9.3" fill="url(#bg)"/>
<g transform="translate(167.00 371.70)" fill="none" stroke="#555" stroke-width="2.1">
<path d="M3.00 -4.47 L3.00 4.67 L0.73 4.67 L0.73 -1.47 L-1.93 -0.27 L-1.93 -2.27 L1.27 -4.47 Z" fill="#555" stroke="none"/>
</g>
<circle cx="302.0" cy="371.7" r="9.3" fill="url(#bg)"/>
<g transform="translate(302.00 371.70)" fill="none" stroke="#555" stroke-width="2.1">
<path d="M-1.00 -1.87 C-1.13 -4.40 2.60 -4.27 2.33 -1.73 C2.20 0.13 -1.27 1.47 -1.27 3.60 L3.40 3.60"/>
</g>
<circle cx="431.7" cy="371.7" r="9.3" fill="url(#bg)"/>
<g transform="translate(431.70 371.70)" fill="none" stroke="#555" stroke-width="2.1">
<path d="M-2.07 -2.40 C-1.80 -4.40 2.20 -4.40 1.93 -1.87 C1.87 -0.53 0.47 -0.13 -0.60 -0.13 C0.87 -0.13 2.47 0.53 2.33 2.40 C2.20 4.67 -2.07 4.67 -2.33 2.27"/>
</g>
<g transform="translate(0.0 0)">
<g fill="none" stroke="#222" stroke-width="1.45" stroke-linejoin="miter" stroke-miterlimit="10">
<path d="M49.70 493.80 L217.20 493.80 L217.20 424.30 Z"/>
<path d="M133.40 493.80 L133.40 459.07"/>
<path d="M175.30 493.80 L175.30 441.69"/>
</g>
<path d="M107.60 475.7 L113.00 483.0 L125.90 470.6" fill="none" stroke="#161616" stroke-width="2.9" stroke-linejoin="miter"/>
<path d="M149.60 475.7 L155.00 483.0 L167.90 470.6" fill="none" stroke="#161616" stroke-width="2.9" stroke-linejoin="miter"/>
<path d="M191.00 472.2 L201.00 482.2 M191.00 482.2 L201.00 472.2" fill="none" stroke="#161616" stroke-width="3.6"/>
<g font-family="Liberation Sans, sans-serif" font-weight="bold" font-size="11" fill="#222" stroke="#222" stroke-width="0.7">
<text transform="translate(49.7 508.7) scale(0.78 1)" letter-spacing="2.0">MIN</text>
<text transform="translate(190.9 508.7) scale(0.75 1)" letter-spacing="2.4">MAX</text>
</g></g>
<g transform="translate(303.4 0)">
<g fill="none" stroke="#222" stroke-width="1.45" stroke-linejoin="miter" stroke-miterlimit="10">
<path d="M49.70 493.80 L217.20 493.80 L217.20 424.30 Z"/>
<path d="M133.40 493.80 L133.40 459.07"/>
<path d="M175.30 493.80 L175.30 441.69"/>
</g>
<path d="M110.10 475.7 L115.50 483.0 L128.40 470.6" fill="none" stroke="#161616" stroke-width="2.9" stroke-linejoin="miter"/>
<path d="M150.00 475.7 L155.40 483.0 L168.30 470.6" fill="none" stroke="#161616" stroke-width="2.9" stroke-linejoin="miter"/>
<path d="M186.40 475.7 L191.80 483.0 L204.70 470.6" fill="none" stroke="#161616" stroke-width="2.9" stroke-linejoin="miter"/>
<g font-family="Liberation Sans, sans-serif" font-weight="bold" font-size="11" fill="#222" stroke="#222" stroke-width="0.7">
<text transform="translate(49.7 508.7) scale(0.78 1)" letter-spacing="2.0">MIN</text>
<text transform="translate(190.9 508.7) scale(0.75 1)" letter-spacing="2.4">MAX</text>
</g></g>
<g transform="translate(0.0 0)" fill="none" stroke="#1a1a1a" stroke-width="1.35" stroke-linecap="round" stroke-linejoin="round">
<path d="M71.00 439.67 L62.33 448.33"/>
<path d="M87.67 452.33 L77.00 463.00"/>
<path d="M61.13 448.73 C60.67 449.11 59.27 449.93 58.33 451.00 C57.40 452.07 56.76 453.22 55.53 455.13 C54.31 457.04 53.02 459.47 51.00 462.47 C48.98 465.47 44.67 471.36 43.40 473.13 L52.60 480.47 C53.87 479.61 57.71 477.03 60.20 475.33 C62.69 473.64 65.27 471.88 67.53 470.29 C69.80 468.70 72.40 466.92 73.80 465.80 C75.20 464.68 75.58 463.97 75.93 463.60 Q73.76 454.61 61.13 448.73 Z" fill="#fff"/>
<path d="M61.08 448.57 Q73.76 454.61 75.93 463.60" stroke-width="2.4"/>
<path d="M61.08 448.57 Q73.76 454.61 75.93 463.60" stroke="#cfcfcf" stroke-width="0.6"/>
<path d="M43.67 472.33 L41.53 475.00 L50.33 481.93 L52.73 479.80Z" fill="#111" stroke="#111" stroke-width="0.9"/>
<path d="M42.87 476.07 L41.80 478.73 L45.27 481.40 L47.40 479.53Z" fill="#fff" stroke-width="1.0"/>
<path d="M42.33 478.47 C41.67 479.33 39.67 482.02 38.33 483.67 C37.00 485.31 35.00 487.56 34.33 488.33 L36.47 488.60 C37.22 488.02 39.49 486.33 41.00 485.13 C42.51 483.93 44.78 482.02 45.53 481.40 Z" fill="#fff" stroke-width="1.15"/>
<path d="M35.67 486.73 C35.04 487.71 32.73 490.56 31.93 492.60 C31.13 494.64 30.73 496.82 30.87 499.00 C31.00 501.18 32.42 504.56 32.73 505.67 L33.53 505.67 C33.40 504.56 32.73 501.00 32.73 499.00 C32.73 497.00 32.82 495.44 33.53 493.67 C34.24 491.89 36.42 489.22 37.00 488.33 Z" fill="#1a1a1a" stroke-width="0.5"/>
<path d="M28.40 498.10 A7 7 0 0 0 28.40 509.10" stroke="#3a3a3a" stroke-width="1.2"/>
<path d="M37.00 498.10 A7 7 0 0 1 37.00 509.10" stroke="#3a3a3a" stroke-width="1.2"/>
</g>
<g transform="translate(204.7 0)" fill="none" stroke="#1a1a1a" stroke-width="1.35" stroke-linecap="round" stroke-linejoin="round">
<path d="M71.00 439.67 L62.33 448.33"/>
<path d="M87.67 452.33 L77.00 463.00"/>
<path d="M61.13 448.73 C60.67 449.11 59.27 449.93 58.33 451.00 C57.40 452.07 56.76 453.22 55.53 455.13 C54.31 457.04 53.02 459.47 51.00 462.47 C48.98 465.47 44.67 471.36 43.40 473.13 L52.60 480.47 C53.87 479.61 57.71 477.03 60.20 475.33 C62.69 473.64 65.27 471.88 67.53 470.29 C69.80 468.70 72.40 466.92 73.80 465.80 C75.20 464.68 75.58 463.97 75.93 463.60 Q73.76 454.61 61.13 448.73 Z" fill="#fff"/>
<path d="M61.08 448.57 Q73.76 454.61 75.93 463.60" stroke-width="2.4"/>
<path d="M61.08 448.57 Q73.76 454.61 75.93 463.60" stroke="#cfcfcf" stroke-width="0.6"/>
<path d="M43.67 472.33 L41.53 475.00 L50.33 481.93 L52.73 479.80Z" fill="#111" stroke="#111" stroke-width="0.9"/>
<path d="M42.87 476.07 L41.80 478.73 L45.27 481.40 L47.40 479.53Z" fill="#fff" stroke-width="1.0"/>
<path d="M42.33 478.47 C41.67 479.33 39.67 482.02 38.33 483.67 C37.00 485.31 35.00 487.56 34.33 488.33 L36.47 488.60 C37.22 488.02 39.49 486.33 41.00 485.13 C42.51 483.93 44.78 482.02 45.53 481.40 Z" fill="#fff" stroke-width="1.15"/>
<path d="M35.67 486.73 C35.04 487.71 32.73 490.56 31.93 492.60 C31.13 494.64 30.73 496.82 30.87 499.00 C31.00 501.18 32.42 504.56 32.73 505.67 L33.53 505.67 C33.40 504.56 32.73 501.00 32.73 499.00 C32.73 497.00 32.82 495.44 33.53 493.67 C34.24 491.89 36.42 489.22 37.00 488.33 Z" fill="#1a1a1a" stroke-width="0.5"/>
<path d="M27.50 499.17 A7.30 7.30 0 0 0 27.50 508.77" stroke="#4a4a4a" stroke-width="1.00"/>
<path d="M35.70 499.17 A7.30 7.30 0 0 1 35.70 508.77" stroke="#4a4a4a" stroke-width="1.00"/>
<path d="M25.64 496.47 A10.10 10.10 0 0 0 25.64 511.47" stroke="#2e2e2e" stroke-width="1.25"/>
<path d="M37.56 496.47 A10.10 10.10 0 0 1 37.56 511.47" stroke="#2e2e2e" stroke-width="1.25"/>
<path d="M23.61 493.67 A13.10 13.10 0 0 0 23.61 514.27" stroke="#1c1c1c" stroke-width="1.60"/>
<path d="M39.59 493.67 A13.10 13.10 0 0 1 39.59 514.27" stroke="#1c1c1c" stroke-width="1.60"/>
</g>
<g transform="translate(303.3 0)" fill="none" stroke="#1a1a1a" stroke-width="1.35" stroke-linecap="round" stroke-linejoin="round">
<path d="M71.00 439.67 L62.33 448.33"/>
<path d="M87.67 452.33 L77.00 463.00"/>
<path d="M61.13 448.73 C60.67 449.11 59.27 449.93 58.33 451.00 C57.40 452.07 56.76 453.22 55.53 455.13 C54.31 457.04 53.02 459.47 51.00 462.47 C48.98 465.47 44.67 471.36 43.40 473.13 L52.60 480.47 C53.87 479.61 57.71 477.03 60.20 475.33 C62.69 473.64 65.27 471.88 67.53 470.29 C69.80 468.70 72.40 466.92 73.80 465.80 C75.20 464.68 75.58 463.97 75.93 463.60 Q73.76 454.61 61.13 448.73 Z" fill="#fff"/>
<path d="M61.08 448.57 Q73.76 454.61 75.93 463.60" stroke-width="2.4"/>
<path d="M61.08 448.57 Q73.76 454.61 75.93 463.60" stroke="#cfcfcf" stroke-width="0.6"/>
<path d="M43.67 472.33 L41.53 475.00 L50.33 481.93 L52.73 479.80Z" fill="#111" stroke="#111" stroke-width="0.9"/>
<path d="M42.87 476.07 L41.80 478.73 L45.27 481.40 L47.40 479.53Z" fill="#fff" stroke-width="1.0"/>
<path d="M42.33 478.47 C41.67 479.33 39.67 482.02 38.33 483.67 C37.00 485.31 35.00 487.56 34.33 488.33 L36.47 488.60 C37.22 488.02 39.49 486.33 41.00 485.13 C42.51 483.93 44.78 482.02 45.53 481.40 Z" fill="#fff" stroke-width="1.15"/>
<path d="M35.67 486.73 C35.04 487.71 32.73 490.56 31.93 492.60 C31.13 494.64 30.73 496.82 30.87 499.00 C31.00 501.18 32.42 504.56 32.73 505.67 L33.53 505.67 C33.40 504.56 32.73 501.00 32.73 499.00 C32.73 497.00 32.82 495.44 33.53 493.67 C34.24 491.89 36.42 489.22 37.00 488.33 Z" fill="#1a1a1a" stroke-width="0.5"/>
<path d="M38.70 492.27 C38.45 500.27 35.70 503.87 35.70 509.27 A3.00 3.00 0 1 0 41.70 509.27 C41.70 503.87 38.95 500.27 38.70 492.27 Z" fill="#181818" stroke="#181818" stroke-width="0.5"/>
<path d="M38.70 504.47 C36.84 509.57 37.20 511.01 38.70 511.01 C40.20 511.01 40.56 509.57 38.70 504.47 Z" fill="#fff" stroke="none"/>
</g>
<g transform="translate(507.6 0)" fill="none" stroke="#1a1a1a" stroke-width="1.35" stroke-linecap="round" stroke-linejoin="round">
<path d="M71.00 439.67 L62.33 448.33"/>
<path d="M87.67 452.33 L77.00 463.00"/>
<path d="M61.13 448.73 C60.67 449.11 59.27 449.93 58.33 451.00 C57.40 452.07 56.76 453.22 55.53 455.13 C54.31 457.04 53.02 459.47 51.00 462.47 C48.98 465.47 44.67 471.36 43.40 473.13 L52.60 480.47 C53.87 479.61 57.71 477.03 60.20 475.33 C62.69 473.64 65.27 471.88 67.53 470.29 C69.80 468.70 72.40 466.92 73.80 465.80 C75.20 464.68 75.58 463.97 75.93 463.60 Q73.76 454.61 61.13 448.73 Z" fill="#fff"/>
<path d="M61.08 448.57 Q73.76 454.61 75.93 463.60" stroke-width="2.4"/>
<path d="M61.08 448.57 Q73.76 454.61 75.93 463.60" stroke="#cfcfcf" stroke-width="0.6"/>
<path d="M43.67 472.33 L41.53 475.00 L50.33 481.93 L52.73 479.80Z" fill="#111" stroke="#111" stroke-width="0.9"/>
<path d="M42.87 476.07 L41.80 478.73 L45.27 481.40 L47.40 479.53Z" fill="#fff" stroke-width="1.0"/>
<path d="M42.33 478.47 C41.67 479.33 39.67 482.02 38.33 483.67 C37.00 485.31 35.00 487.56 34.33 488.33 L36.47 488.60 C37.22 488.02 39.49 486.33 41.00 485.13 C42.51 483.93 44.78 482.02 45.53 481.40 Z" fill="#fff" stroke-width="1.15"/>
<path d="M35.67 486.73 C35.04 487.71 32.73 490.56 31.93 492.60 C31.13 494.64 30.73 496.82 30.87 499.00 C31.00 501.18 32.42 504.56 32.73 505.67 L33.53 505.67 C33.40 504.56 32.73 501.00 32.73 499.00 C32.73 497.00 32.82 495.44 33.53 493.67 C34.24 491.89 36.42 489.22 37.00 488.33 Z" fill="#1a1a1a" stroke-width="0.5"/>
<path d="M40.70 490.97 C40.45 498.17 38.00 501.41 38.00 506.27 A2.70 2.70 0 1 0 43.40 506.27 C43.40 501.41 40.95 498.17 40.70 490.97 Z" fill="#181818" stroke="#181818" stroke-width="0.5"/>
<path d="M40.70 501.95 C39.03 506.54 39.35 507.83 40.70 507.83 C42.05 507.83 42.37 506.54 40.70 501.95 Z" fill="#fff" stroke="none"/>
<path d="M35.70 497.27 C35.45 504.07 32.90 507.13 32.90 511.47 A2.80 2.80 0 1 0 38.50 511.47 C38.50 507.13 35.95 504.07 35.70 497.27 Z" fill="#181818" stroke="#181818" stroke-width="0.5"/>
<path d="M35.70 506.99 C33.96 511.75 34.30 513.09 35.70 513.09 C37.10 513.09 37.44 511.75 35.70 506.99 Z" fill="#fff" stroke="none"/>
<path d="M45.70 496.97 C45.45 504.05 42.70 507.23 42.70 511.67 A3.00 3.00 0 1 0 48.70 511.67 C48.70 507.23 45.95 504.05 45.70 496.97 Z" fill="#181818" stroke="#181818" stroke-width="0.5"/>
<path d="M45.70 506.87 C43.84 511.97 44.20 513.41 45.70 513.41 C47.20 513.41 47.56 511.97 45.70 506.87 Z" fill="#fff" stroke="none"/>
</g>
</svg>
</body></html>
